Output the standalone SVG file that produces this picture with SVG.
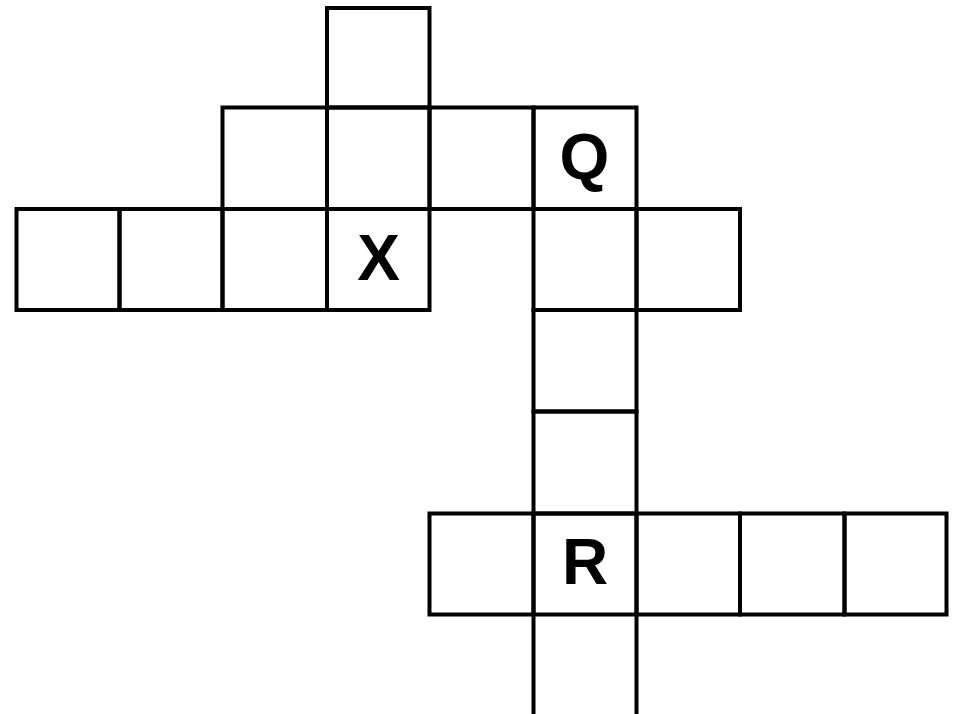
<svg xmlns="http://www.w3.org/2000/svg" width="953" height="714" viewBox="0 0 953 714">
<style>
.c{fill:none;stroke:#000;stroke-width:4;stroke-linejoin:miter}
.l{stroke:#000;stroke-width:4}
.t{font-family:"Liberation Sans",Arial,sans-serif;font-weight:bold;font-size:64px;fill:#000;text-anchor:middle}
</style>
<rect width="953" height="714" fill="#fff"/>
<g id="grid">
<rect class="c" x="327" y="8" width="102.5" height="99.5"/>
<rect class="c" x="222.5" y="107.5" width="104.5" height="101.5"/>
<rect class="c" x="327" y="107.5" width="102.5" height="101.5"/>
<rect class="c" x="429.5" y="107.5" width="104" height="101.5"/>
<rect class="c" x="533.5" y="107.5" width="103" height="101.5"/>
<rect class="c" x="16.5" y="209" width="103" height="101"/>
<rect class="c" x="119.5" y="209" width="103" height="101"/>
<rect class="c" x="222.5" y="209" width="104.5" height="101"/>
<rect class="c" x="327" y="209" width="102.5" height="101"/>
<rect class="c" x="533.5" y="209" width="103" height="101"/>
<rect class="c" x="636.5" y="209" width="103.5" height="101"/>
<rect class="c" x="533.5" y="310" width="103" height="101.5"/>
<rect class="c" x="533.5" y="411.5" width="103" height="102"/>
<rect class="c" x="429.5" y="513.5" width="104" height="101"/>
<rect class="c" x="533.5" y="513.5" width="103" height="101"/>
<rect class="c" x="636.5" y="513.5" width="103.5" height="101"/>
<rect class="c" x="740" y="513.5" width="104.5" height="101"/>
<rect class="c" x="844.5" y="513.5" width="102" height="101"/>
<line class="l" x1="533.5" y1="614.5" x2="533.5" y2="714"/>
<line class="l" x1="636.5" y1="614.5" x2="636.5" y2="714"/>
</g>
<g id="labels">
<text class="t" x="584.5" y="179">Q</text>
<text class="t" x="378.5" y="279.5">X</text>
<text class="t" x="585" y="584">R</text>
</g>
</svg>
